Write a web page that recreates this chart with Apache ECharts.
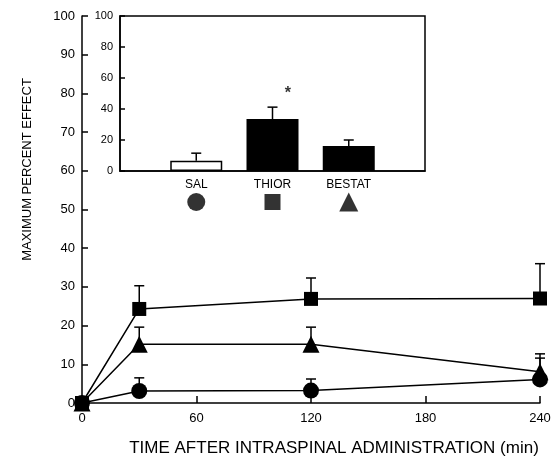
<!DOCTYPE html>
<html>
<head>
<meta charset="utf-8">
<script src="https://cdn.jsdelivr.net/npm/echarts@6/dist/echarts.min.js"></script>
<style>
html,body{margin:0;padding:0;background:#fff;overflow:hidden;}
#c{width:555px;height:458px;}
</style>
</head>
<body>
<div id="c"></div>
<script>
// ---- data ----
var times = [0, 30, 120, 240];
var salVals = [0, 3.1, 3.2, 6.1];
var salErr = [0, 3.4, 3.0, 5.5];
var bestatVals = [0, 15.2, 15.2, 8.1];
var bestatErr = [0, 4.4, 4.4, 4.6];
var thiorVals = [0, 24.3, 26.9, 27.0];
var thiorErr = [0, 6.0, 5.4, 9.0];

var insetCats = ['SAL', 'THIOR', 'BESTAT'];
var insetPos = [1, 2, 3];
var insetVals = [6.6, 33.5, 16.1];
var insetErr = [4.9, 7.7, 3.9];
var sigMark = [[2.2, 50]];

var FONT = 'Liberation Sans';

function pairs(xs, ys) { return xs.map(function (x, i) { return [x, ys[i]]; }); }
function triples(xs, ys, es) { return xs.map(function (x, i) { return [x, ys[i], es[i]]; }); }

function errRender(params, api) {
  var x = api.value(0), y = api.value(1), e = api.value(2);
  if (!e) return null;
  var p0 = api.coord([x, y]), p1 = api.coord([x, y + e]);
  var h = 5;
  return {
    type: 'group',
    children: [
      { type: 'line', shape: { x1: p0[0], y1: p0[1], x2: p1[0], y2: p1[1] }, style: { stroke: '#000', lineWidth: 1.5 } },
      { type: 'line', shape: { x1: p1[0] - h, y1: p1[1], x2: p1[0] + h, y2: p1[1] }, style: { stroke: '#000', lineWidth: 1.5 } }
    ]
  };
}

var chart = echarts.init(document.getElementById('c'), null, { renderer: 'canvas' });

var axisLineStyle = { color: '#000', width: 1.5 };

var option = {
  animation: false,
  backgroundColor: '#fff',
  textStyle: { fontFamily: FONT, color: '#000' },
  grid: [
    { left: 82, right: 15, top: 16, bottom: 55, containLabel: false, outerBoundsMode: 'none' },
    { left: 120, right: 130, top: 16, bottom: 287, show: true, borderColor: '#000', borderWidth: 1.5, backgroundColor: 'transparent', containLabel: false, outerBoundsMode: 'none' },
    { left: 120, right: 130, top: 193, height: 18, containLabel: false, outerBoundsMode: 'none' }
  ],
  xAxis: [
    {
      gridIndex: 0, type: 'value', min: 0, max: 240, interval: 60,
      axisLine: { lineStyle: axisLineStyle },
      axisTick: { inside: true, length: 7, lineStyle: axisLineStyle },
      splitLine: { show: false },
      axisLabel: { color: '#000', fontFamily: FONT, fontSize: 13, margin: 9 },
      name: 'TIME AFTER INTRASPINAL ADMINISTRATION (min)',
      nameLocation: 'middle', nameGap: 37,
      nameTextStyle: { color: '#000', fontFamily: FONT, fontSize: 17, padding: [0, 0, 0, 46] }
    },
    {
      gridIndex: 1, type: 'value', min: 0, max: 4, interval: 1,
      axisLine: { lineStyle: axisLineStyle },
      axisTick: { show: false },
      splitLine: { show: false },
      axisLabel: {
        color: '#000', fontFamily: FONT, fontSize: 12, margin: 8,
        formatter: function (v) { var i = insetPos.indexOf(v); return i >= 0 ? insetCats[i] : ''; }
      }
    },
    { gridIndex: 2, type: 'value', min: 0, max: 4, show: false }
  ],
  yAxis: [
    {
      gridIndex: 0, type: 'value', min: 0, max: 100, interval: 10,
      axisLine: { show: true, lineStyle: axisLineStyle },
      axisTick: { show: true, inside: true, length: 6, lineStyle: axisLineStyle },
      splitLine: { show: false },
      axisLabel: { color: '#000', fontFamily: FONT, fontSize: 13, margin: 7 },
      name: 'MAXIMUM PERCENT EFFECT',
      nameLocation: 'middle', nameGap: 48, nameRotate: 90,
      nameTextStyle: { color: '#000', fontFamily: FONT, fontSize: 13, padding: [0, 0, 0, 80] }
    },
    {
      gridIndex: 1, type: 'value', min: 0, max: 100, interval: 20,
      axisLine: { show: true, lineStyle: axisLineStyle },
      axisTick: { show: true, inside: true, length: 5, lineStyle: axisLineStyle },
      splitLine: { show: false },
      axisLabel: { color: '#000', fontFamily: FONT, fontSize: 11, margin: 7 }
    },
    { gridIndex: 2, type: 'value', min: 0, max: 1, show: false }
  ],
  series: [
    // error bars, main
    { type: 'custom', xAxisIndex: 0, yAxisIndex: 0, renderItem: errRender, data: triples(times, salVals, salErr), encode: { x: 0, y: 1 }, z: 1 },
    { type: 'custom', xAxisIndex: 0, yAxisIndex: 0, renderItem: errRender, data: triples(times, bestatVals, bestatErr), encode: { x: 0, y: 1 }, z: 1 },
    { type: 'custom', xAxisIndex: 0, yAxisIndex: 0, renderItem: errRender, data: triples(times, thiorVals, thiorErr), encode: { x: 0, y: 1 }, z: 1 },
    // lines
    {
      name: 'SAL', type: 'line', xAxisIndex: 0, yAxisIndex: 0, data: pairs(times, salVals),
      symbol: 'circle', symbolSize: 16, showAllSymbol: true,
      lineStyle: { color: '#000', width: 1.5 }, itemStyle: { color: '#000' }, z: 3
    },
    {
      name: 'BESTAT', type: 'line', xAxisIndex: 0, yAxisIndex: 0, data: pairs(times, bestatVals),
      symbol: 'triangle', symbolSize: 17, showAllSymbol: true,
      lineStyle: { color: '#000', width: 1.5 }, itemStyle: { color: '#000' }, z: 4
    },
    {
      name: 'THIOR', type: 'line', xAxisIndex: 0, yAxisIndex: 0, data: pairs(times, thiorVals),
      symbol: 'rect', symbolSize: 14, showAllSymbol: true,
      lineStyle: { color: '#000', width: 1.5 }, itemStyle: { color: '#000' }, z: 5
    },
    // inset bars
    {
      type: 'bar', xAxisIndex: 1, yAxisIndex: 1, barWidth: 52,
      data: insetPos.map(function (p, i) {
        return { value: [p, insetVals[i]], itemStyle: i === 0 ? { color: '#fff', borderColor: '#000', borderWidth: 1.5 } : { color: '#000' } };
      }),
      z: 2
    },
    { type: 'custom', xAxisIndex: 1, yAxisIndex: 1, renderItem: errRender, data: triples(insetPos, insetVals, insetErr), encode: { x: 0, y: 1 }, z: 3 },
    {
      type: 'scatter', xAxisIndex: 1, yAxisIndex: 1, data: sigMark, symbolSize: 0,
      label: { show: true, position: 'inside', formatter: '*', color: '#000', fontFamily: FONT, fontSize: 16, fontWeight: 'bold' }
    },
    // legend symbols under inset
    {
      type: 'scatter', xAxisIndex: 2, yAxisIndex: 2,
      data: [
        { value: [insetPos[0], 0.5], symbol: 'circle', symbolSize: 18 },
        { value: [insetPos[1], 0.5], symbol: 'rect', symbolSize: 16 },
        { value: [insetPos[2], 0.5], symbol: 'triangle', symbolSize: 19 }
      ],
      itemStyle: { color: '#000' }
    }
  ]
};
chart.setOption(option);
</script>
</body>
</html>
